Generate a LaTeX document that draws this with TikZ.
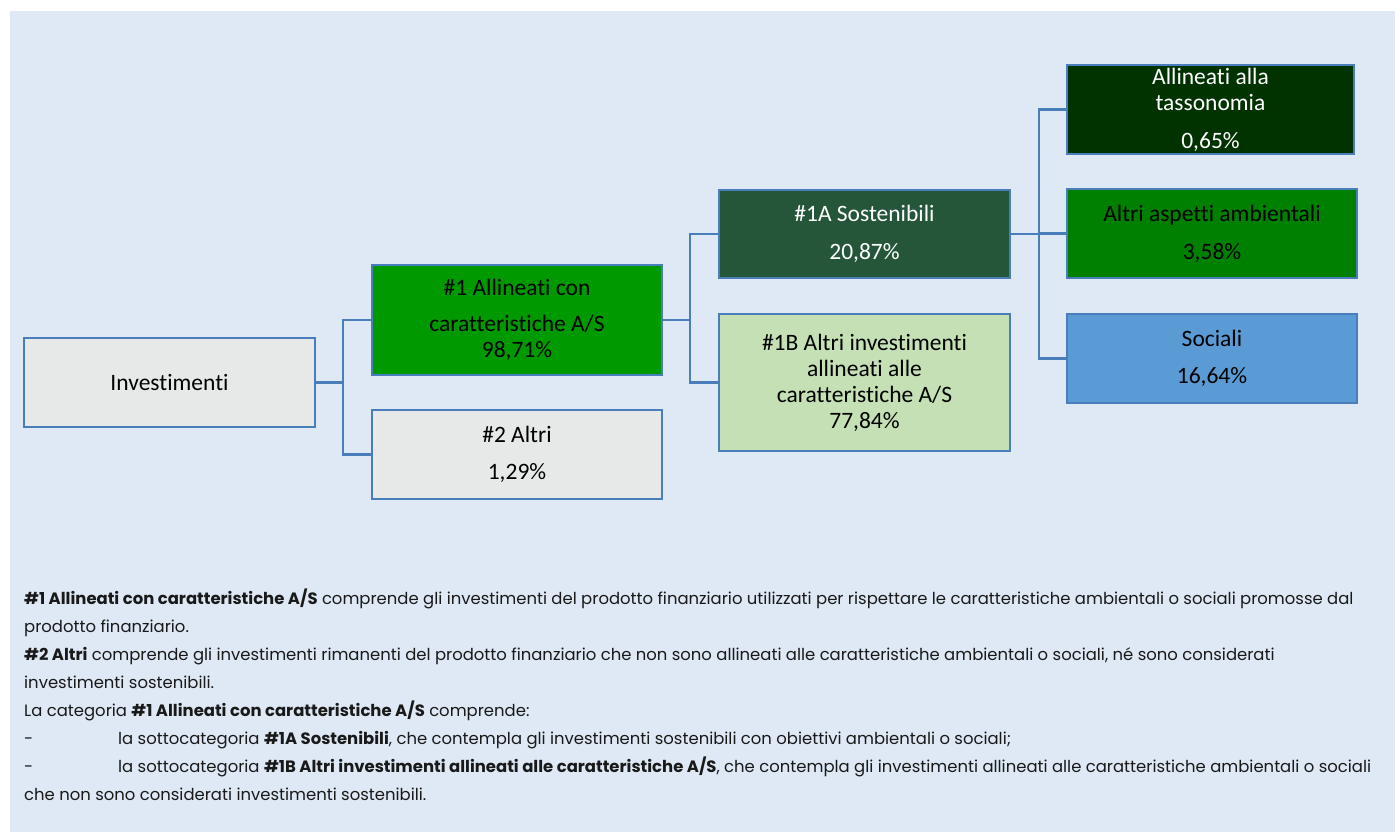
\documentclass[tikz,border=0pt]{standalone}
\usepackage{fontspec}
\setmainfont[Ligatures=NoCommon]{Carlito}
\newfontfamily\notefont[Ligatures=NoCommon]{Poppins}
\usetikzlibrary{positioning}

\definecolor{bgblue}{RGB}{222,233,245}
\definecolor{edgeblue}{RGB}{74,126,187}
\definecolor{boxgray}{RGB}{231,233,232}
\definecolor{midgreen}{RGB}{0,153,0}
\definecolor{darkgreen}{RGB}{37,86,58}
\definecolor{palegreen}{RGB}{197,224,180}
\definecolor{deepgreen}{RGB}{0,51,0}
\definecolor{envgreen}{RGB}{0,128,0}
\definecolor{socblue}{RGB}{91,155,213}

\begin{document}
\begin{tikzpicture}[
    x=1pt, y=-1pt,
    node distance=35pt,
    % Style definitions
    catbox/.style={rectangle, draw=edgeblue, line width=2.7pt, minimum width=290pt,
                   minimum height=89pt, inner sep=2pt, outer sep=0pt, align=center,
                   text=black, font=\fontsize{23.5}{26}\selectfont},
    link/.style={draw=edgeblue, line width=2.5pt},
    note/.style={font=\notefont\fontsize{16.45}{27.9}\selectfont, align=left, inner sep=0pt,
                 anchor=north west, text=black!90},
]
\useasboundingbox (0,0) rectangle (1395,832);
\fill[bgblue] (10,11) rectangle (1395,832);

% Tree
\node[catbox, fill=boxgray, minimum width=291pt] (inv) at (169.5,382.5) {Investimenti};

\node[catbox, fill=midgreen, minimum height=110pt] (a1) at (517,320)
    {\#1 Allineati con\\[10pt]caratteristiche A/S\\98,71\%};
\node[catbox, fill=boxgray, below=of a1] (a2) {\#2 Altri\\[11pt]1,29\%};

\node[catbox, fill=darkgreen, text=white, minimum width=291pt, minimum height=88pt] (s1a) at (864.5,234)
    {\#1A Sostenibili\\[12pt]20,87\%};
\node[catbox, fill=palegreen, minimum width=291pt, minimum height=137pt, below=36pt of s1a] (s1b)
    {\#1B Altri investimenti\\allineati alle\\caratteristiche A/S\\77,84\%};

\node[catbox, fill=deepgreen, text=white, minimum width=287pt] (tax) at (1210.5,109.5)
    {Allineati alla\\tassonomia\\[12pt]0,65\%};
\node[catbox, fill=envgreen, below=of tax, xshift=1.5pt] (amb) {Altri aspetti ambientali\\[12pt]3,58\%};
\node[catbox, fill=socblue, below=36pt of amb] (soc) {Sociali\\[11pt]16,64\%};

% Connectors
\draw[link] (inv.east) -- ++(28,0) |- (a1.west);
\draw[link] (inv.east) -- ++(28,0) |- (a2.west);
\draw[link] (a1.east) -- ++(28,0) |- (s1a.west);
\draw[link] (a1.east) -- ++(28,0) |- (s1b.west);
\draw[link] (s1a.east) -- ++(29,0) |- (tax.west);
\draw[link] (s1a.east) -- ++(29,0) |- (amb.west);
\draw[link] (s1a.east) -- ++(29,0) |- (soc.west);

% Notes
\node[note] (notes) at (24,589) {%
  \textbf{\#1 Allineati con caratteristiche A/S} comprende gli investimenti del prodotto finanziario utilizzati per rispettare le caratteristiche ambientali o sociali promosse dal\\
  prodotto finanziario.\\
  \textbf{\#2 Altri} comprende gli investimenti rimanenti del prodotto finanziario che non sono allineati alle caratteristiche ambientali o sociali, né sono considerati\\
  investimenti sostenibili.\\
  La categoria \textbf{\#1 Allineati con caratteristiche A/S} comprende:\\
  \makebox[94pt][l]{-}la sottocategoria \textbf{\#1A Sostenibili}, che contempla gli investimenti sostenibili con obiettivi ambientali o sociali;\\
  \makebox[94pt][l]{-}la sottocategoria \textbf{\#1B Altri investimenti allineati alle caratteristiche A/S}, che contempla gli investimenti allineati alle caratteristiche ambientali o sociali\\
  che non sono considerati investimenti sostenibili.};

\end{tikzpicture}
\end{document}
